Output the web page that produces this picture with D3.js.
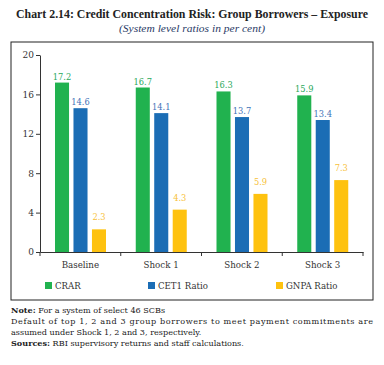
<!DOCTYPE html>
<html>
<head>
<meta charset="utf-8">
<script src="https://cdn.jsdelivr.net/npm/d3@7"></script>
<style>
  body { margin: 0; background: #fff; }
  svg { display: block; font-family: "DejaVu Serif", serif; }
</style>
</head>
<body>
<svg id="chart"></svg>
<script>
const categories = ["Baseline", "Shock 1", "Shock 2", "Shock 3"];
const seriesNames = ["CRAR", "CET1 Ratio", "GNPA Ratio"];
const crar = [17.2, 16.7, 16.3, 15.9];
const cet1 = [14.6, 14.1, 13.7, 13.4];
const gnpa = [2.3, 4.3, 5.9, 7.3];
const yTicks = [0, 4, 8, 12, 16, 20];

const width = 384;
const height = 365;
const colors = ["#21b24f", "#1b6db5", "#fec20f"];
const labelColors = ["#29a85a", "#3f73b8", "#f7bf3a"];
const fontFam = "DejaVu Serif, serif";

const svg = d3.select("#chart").attr("width", width).attr("height", height);

// title block (narrower face so it fits the width)
svg.append("text")
  .attr("x", 192).attr("y", 18)
  .attr("text-anchor", "middle")
  .attr("font-family", "Liberation Serif, serif")
  .attr("font-weight", "bold")
  .attr("font-size", 11.5)
  .attr("fill", "#222")
  .attr("textLength", 352).attr("lengthAdjust", "spacingAndGlyphs")
  .text("Chart 2.14: Credit Concentration Risk: Group Borrowers \u2013 Exposure");

svg.append("text")
  .attr("x", 192).attr("y", 32)
  .attr("text-anchor", "middle")
  .attr("font-family", "Liberation Serif, serif")
  .attr("font-style", "italic")
  .attr("font-size", 10)
  .attr("fill", "#2a3a66")
  .attr("textLength", 146).attr("lengthAdjust", "spacingAndGlyphs")
  .text("(System level ratios  in per cent)");

// frame
svg.append("rect")
  .attr("x", 11).attr("y", 42)
  .attr("width", 362).attr("height", 258)
  .attr("fill", "none").attr("stroke", "#222").attr("stroke-width", 1);

const x0 = d3.scaleBand().domain(categories).range([40, 363]);
const x1 = d3.scaleBand().domain(seriesNames).range([15, 66]).paddingInner(0.24);
const y = d3.scaleLinear().domain([0, 20]).range([252, 55]);

const rows = categories.map((c, i) => ({ cat: c, vals: [crar[i], cet1[i], gnpa[i]] }));

// axes
const yAxis = svg.append("g")
  .attr("transform", "translate(40,0)")
  .call(d3.axisLeft(y).tickValues(yTicks).tickSize(4).tickSizeOuter(0));
yAxis.select(".domain").attr("stroke", "#333");
yAxis.selectAll(".tick line").attr("stroke", "#333");
yAxis.selectAll(".tick text")
  .attr("font-family", fontFam)
  .attr("font-size", 9).attr("fill", "#333").attr("x", -6);

const xAxis = svg.append("g")
  .attr("transform", "translate(0,252)")
  .call(d3.axisBottom(x0).tickSize(0).tickSizeOuter(0).tickPadding(10));
xAxis.select(".domain").attr("stroke", "#333");
xAxis.selectAll(".tick text")
  .attr("font-family", fontFam)
  .attr("font-size", 8.7).attr("fill", "#333");

// boundary ticks between categories
svg.append("g").selectAll("line")
  .data(categories.concat(["end"]))
  .enter().append("line")
  .attr("x1", (d, i) => i < categories.length ? x0(d) : x0.range()[1])
  .attr("x2", (d, i) => i < categories.length ? x0(d) : x0.range()[1])
  .attr("y1", 252).attr("y2", 256)
  .attr("stroke", "#333");

// bars
const groups = svg.append("g").selectAll("g")
  .data(rows).enter().append("g")
  .attr("transform", d => "translate(" + x0(d.cat) + ",0)");

groups.selectAll("rect")
  .data(d => d.vals.map((v, j) => ({ name: seriesNames[j], v: v, j: j })))
  .enter().append("rect")
  .attr("x", d => x1(d.name))
  .attr("width", x1.bandwidth())
  .attr("y", d => y(d.v))
  .attr("height", d => y(0) - y(d.v))
  .attr("fill", d => colors[d.j]);

groups.selectAll("text")
  .data(d => d.vals.map((v, j) => ({ name: seriesNames[j], v: v, j: j })))
  .enter().append("text")
  .attr("x", d => x1(d.name) + x1.bandwidth() / 2)
  .attr("y", d => y(d.v) - (d.j === 2 ? 9 : 3))
  .attr("text-anchor", "middle")
  .attr("font-size", 8.3)
  .attr("fill", d => labelColors[d.j])
  .text(d => d.v.toFixed(1));

// legend
const legendX = [45, 148, 276];
const legend = svg.append("g").selectAll("g")
  .data(seriesNames).enter().append("g")
  .attr("transform", (d, i) => "translate(" + legendX[i] + ",282)");
legend.append("rect").attr("width", 7).attr("height", 7)
  .attr("fill", (d, i) => colors[i]);
legend.append("text").attr("x", 10).attr("y", 7)
  .attr("font-size", 8.6).attr("fill", "#333")
  .text(d => d);

// notes
const notes = svg.append("g").attr("font-size", 8.1).attr("fill", "#222");
const n1 = notes.append("text").attr("x", 11).attr("y", 313);
n1.append("tspan").attr("font-weight", "bold").text("Note:");
n1.append("tspan").text(" For a system of select 46 SCBs");
notes.append("text").attr("x", 11).attr("y", 324)
  .attr("textLength", 362).attr("lengthAdjust", "spacing")
  .text("Default of top 1, 2 and 3 group borrowers to meet payment commitments are");
notes.append("text").attr("x", 11).attr("y", 335)
  .text("assumed under Shock 1, 2 and 3, respectively.");
const n4 = notes.append("text").attr("x", 11).attr("y", 346);
n4.append("tspan").attr("font-weight", "bold").text("Sources:");
n4.append("tspan").text(" RBI supervisory returns and staff calculations.");
</script>
</body>
</html>
